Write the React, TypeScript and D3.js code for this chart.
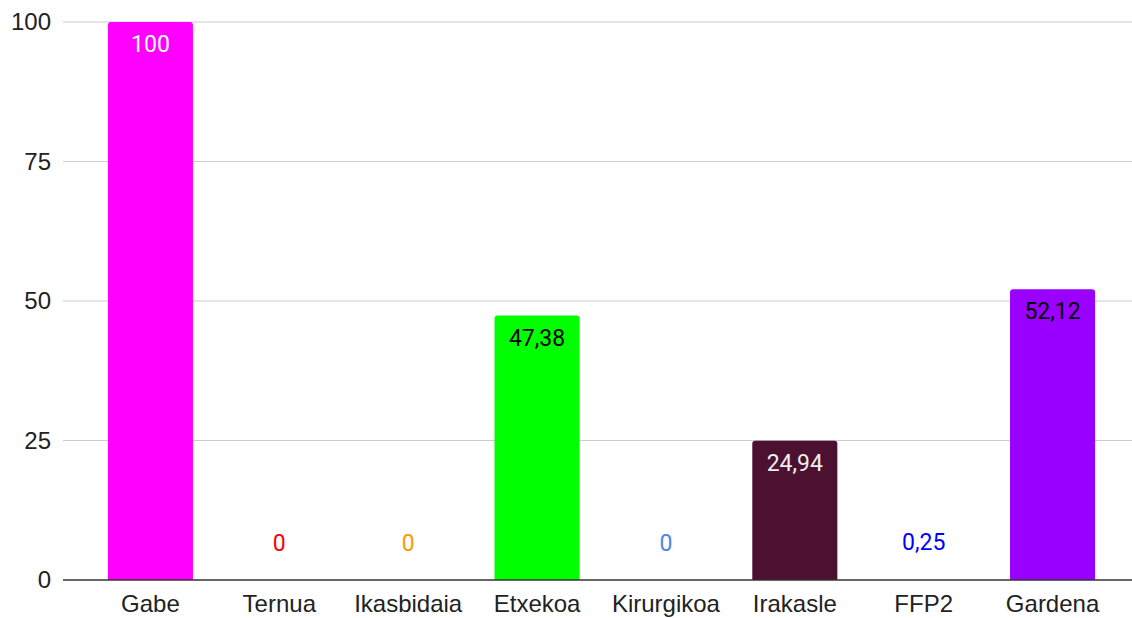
import React from 'react';
import * as d3 from 'd3';

const categories = ['Gabe', 'Ternua', 'Ikasbidaia', 'Etxekoa', 'Kirurgikoa', 'Irakasle', 'FFP2', 'Gardena'];
const values = [100, 0, 0, 47.38, 0, 24.94, 0.25, 52.12];
const labels = ['100', '0', '0', '47,38', '0', '24,94', '0,25', '52,12'];
const colors = ['#ff00ff', '#ff0000', '#ff9900', '#00ff00', '#4a86e8', '#4c1130', '#0000ff', '#9900ff'];
const insideText = ['#ffffff', '', '', '#000000', '', '#eeeeee', '', '#000000'];
const yTicks = [0, 25, 50, 75, 100];

const W = 1132;
const H = 618;
const axisFont = '"Liberation Sans", Arial, sans-serif';
const labelFont = 'Roboto, Arial, sans-serif';

function topRounded(x: number, y: number, w: number, h: number, r: number) {
  const rr = Math.min(r, h, w / 2);
  return `M${x},${y + h}V${y + rr}Q${x},${y} ${x + rr},${y}H${x + w - rr}Q${x + w},${y} ${x + w},${y + rr}V${y + h}Z`;
}

export default function App() {
  const x = d3.scaleBand<string>().domain(categories).range([86, 1117]).paddingInner(0.34).paddingOuter(0.17);
  const y = d3.scaleLinear().domain([0, 100]).range([580, 22]);
  const gridLeft = 63;
  const gridRight = W;

  return (
    <svg width={W} height={H} style={{ position: 'absolute', left: 0, top: 0, background: '#fff' }}>
      {yTicks.map(t => (
        <g key={t}>
          {t !== 0 && <line x1={gridLeft} x2={gridRight} y1={y(t)} y2={y(t)} stroke="#cccccc" strokeWidth={1.2} />}
          <text x={51} y={y(t)} dy="0.35em" textAnchor="end" fontSize={24} fontFamily={axisFont} fill="#222">{t}</text>
        </g>
      ))}
      {categories.map((c, i) => {
        const bx = x(c)!;
        const bw = x.bandwidth();
        const top = y(values[i]);
        const h = y(0) - top;
        const inside = h > 40;
        return (
          <g key={c}>
            {h >= 2 && <path d={topRounded(bx, top, bw, h, 3)} fill={colors[i]} />}
            <text
              x={bx + bw / 2}
              y={inside ? top + 30 : y(values[i]) - 29}
              textAnchor="middle"
              fontSize={23}
              fontFamily={labelFont}
              fill={inside ? insideText[i] : colors[i]}
            >{labels[i]}</text>
            <text x={bx + bw / 2} y={612} textAnchor="middle" fontSize={24} fontFamily={axisFont} fill="#222">{c}</text>
          </g>
        );
      })}
      <line x1={gridLeft} x2={gridRight} y1={y(0)} y2={y(0)} stroke="#333" strokeWidth={1.5} />
    </svg>
  );
}
